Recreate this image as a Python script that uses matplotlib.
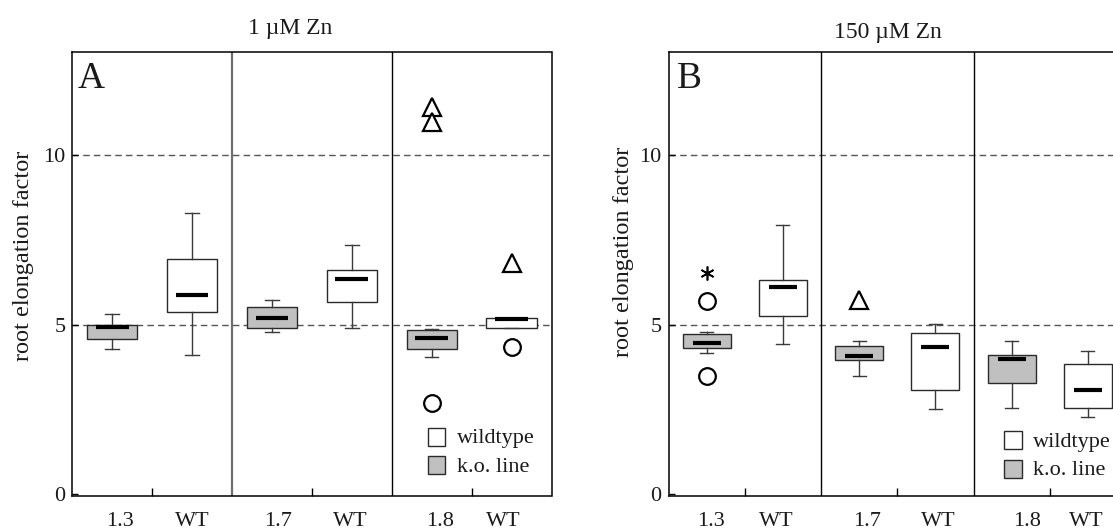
import matplotlib
matplotlib.use("Agg")
import matplotlib.pyplot as plt
from matplotlib.patches import Rectangle
from matplotlib.transforms import Affine2D, blended_transform_factory

plt.rcParams['font.family'] = ['Liberation Serif', 'DejaVu Serif']

W, H = 1113, 530

# ---- data -------------------------------------------------------------
groups = ["1.3", "WT", "1.7", "WT", "1.8", "WT"]
is_ko = [True, False, True, False, True, False]

# 1 µM Zn
a_whislo = [4.27, 4.12, 4.79, 4.91, 4.06, 4.89]
a_q1 = [4.59, 5.37, 4.90, 5.68, 4.27, 4.89]
a_med = [4.93, 5.87, 5.19, 6.34, 4.61, 5.18]
a_q3 = [5.00, 6.93, 5.52, 6.61, 4.83, 5.21]
a_whishi = [5.32, 8.28, 5.74, 7.34, 4.87, 5.21]
a_out_idx = [4, 5]
a_out_val = [2.68, 4.35]
a_ext_idx = [4, 4, 5]
a_ext_val = [11.41, 10.98, 6.82]
a_star_idx = []
a_star_val = []

# 150 µM Zn
b_whislo = [4.18, 4.43, 3.49, 2.51, 2.55, 2.29]
b_q1 = [4.32, 5.26, 3.96, 3.08, 3.28, 2.56]
b_med = [4.45, 6.12, 4.09, 4.34, 3.98, 3.09]
b_q3 = [4.74, 6.32, 4.37, 4.75, 4.11, 3.85]
b_whishi = [4.78, 7.94, 4.53, 5.01, 4.53, 4.22]
b_out_idx = [0, 0]
b_out_val = [5.71, 3.49]
b_ext_idx = [2]
b_ext_val = [5.72]
b_star_idx = [0]
b_star_val = [6.51]

yticks = [0, 5, 10]
ref_lines = [5, 10]

# ---- figure -------------------------------------------------------------
fig = plt.figure(figsize=(W / 100, H / 100), dpi=100)
# transform for placing decorations in pixel units (origin top-left)
pix = Affine2D().scale(1 / W, -1 / H).translate(0, 1) + fig.transFigure

KO_FILL = "#c0c0c0"
EDGE = "#2a2a2a"
TXT = "#1a1a1a"


def axes_rect(left, top, right, bottom):
    return [left / W, 1 - bottom / H, (right - left) / W, (bottom - top) / H]


def draw_panel(rect, whislo, q1, med, q3, whishi,
               out_idx, out_val, ext_idx, ext_val, star_idx, star_val,
               med_half, label_dx, divider_styles):
    ax = fig.add_axes(rect)
    pos = [i + 0.5 for i in range(len(groups))]
    stats = [dict(med=m, q1=a, q3=b, whislo=lo, whishi=hi, fliers=[])
             for lo, a, m, b, hi in zip(whislo, q1, med, q3, whishi)]
    bp = ax.bxp(stats, positions=pos, widths=0.63, capwidths=0.17,
                patch_artist=True, showfliers=False,
                boxprops=dict(edgecolor=EDGE, linewidth=1.0),
                whiskerprops=dict(color="#3a3a3a", linewidth=1.0),
                capprops=dict(color="#3a3a3a", linewidth=1.0),
                medianprops=dict(visible=False))
    for patch, ko in zip(bp["boxes"], is_ko):
        patch.set_facecolor(KO_FILL if ko else "white")
        patch.set_zorder(2)
    ax.hlines(med, [p - med_half for p in pos], [p + med_half for p in pos],
              color="black", linewidth=3.0, zorder=3)

    ax.plot([pos[i] for i in out_idx], out_val, linestyle="none", marker="o",
            ms=12, mfc="white", mec="black", mew=1.6, zorder=4)
    ax.plot([pos[i] for i in ext_idx], ext_val, linestyle="none", marker="^",
            ms=13, mfc="white", mec="black", mew=1.6, zorder=4)
    ax.plot([pos[i] for i in star_idx], star_val, linestyle="none",
            marker=(6, 2, 0), ms=10, mec="black", mew=1.2, zorder=4)

    for y in ref_lines:
        ax.axhline(y, color="#555555", linewidth=1.0, ls=(0, (4.7, 3.0)),
                   zorder=0.5)
    for x, (col, lw) in zip([2, 4], divider_styles):
        ax.axvline(x, color=col, linewidth=lw, zorder=1)

    ax.set_xlim(0, 6)
    ax.set_ylim(-0.038, 13.026)
    ax.set_yticks(yticks)
    ax.set_yticklabels([str(t) for t in yticks], fontsize=16, color=TXT)
    ax.tick_params(axis="y", direction="in", length=4.5, width=1.0, pad=5)
    ax.set_xticks([1, 3, 5])
    ax.set_xticklabels([])
    ax.tick_params(axis="x", direction="in", length=6, width=1.0)
    for s in ax.spines.values():
        s.set_linewidth(1.1)
        s.set_color("black")

    tr = blended_transform_factory(ax.transData, pix)
    for p, g, dx in zip(pos, groups, label_dx):
        ax.text(p + dx, 526, g, transform=tr, ha="center", va="baseline",
                fontsize=16, color=TXT, clip_on=False)
    return ax


ax_a = draw_panel(axes_rect(72.3, 52.3, 551.5, 495.7),
                  a_whislo, a_q1, a_med, a_q3, a_whishi,
                  a_out_idx, a_out_val, a_ext_idx, a_ext_val,
                  a_star_idx, a_star_val,
                  med_half=0.205,
                  label_dx=[0.1, 0.0, 0.08, -0.02, 0.1, -0.1],
                  divider_styles=[("#6e6e6e", 1.6), ("black", 1.0)])

ax_b = draw_panel(axes_rect(668.5, 52.3, 1126.0, 495.7),
                  b_whislo, b_q1, b_med, b_q3, b_whishi,
                  b_out_idx, b_out_val, b_ext_idx, b_ext_val,
                  b_star_idx, b_star_val,
                  med_half=0.185,
                  label_dx=[0.06, -0.09, 0.11, 0.04, 0.2, -0.02],
                  divider_styles=[("black", 1.0), ("black", 1.0)])

# ---- annotations in pixel coordinates --------------------------------------
fig.text(290, 34, "1 µM Zn", transform=pix, ha="center", va="baseline",
         fontsize=17, color=TXT)
fig.text(888, 38, "150 µM Zn", transform=pix, ha="center", va="baseline",
         fontsize=17, color=TXT)
fig.text(78, 88, "A", transform=pix, ha="left", va="baseline",
         fontsize=27, color=TXT)
fig.text(677, 88, "B", transform=pix, ha="left", va="baseline",
         fontsize=27, color=TXT)
for x, y in [(24, 256), (623, 252)]:
    fig.text(x, y, "root elongation factor", transform=pix, rotation=90,
             ha="center", va="center", fontsize=17.5, color=TXT)

# legends (pixel coordinates, y grows downward)
legend_items = [("wildtype", "white"), ("k.o. line", KO_FILL)]
for x0, y0 in [(427.5, 427.7), (1003.7, 431.0)]:
    for k, (name, fc) in enumerate(legend_items):
        top = y0 + k * 28.7
        fig.add_artist(Rectangle((x0, top), 17.9, 17.9, transform=pix,
                                 facecolor=fc, edgecolor=EDGE, linewidth=1.0))
        fig.text(x0 + 29.5, top + 15.5, name, transform=pix, ha="left",
                 va="baseline", fontsize=16, color=TXT)

fig.savefig("out.png", dpi=100)
